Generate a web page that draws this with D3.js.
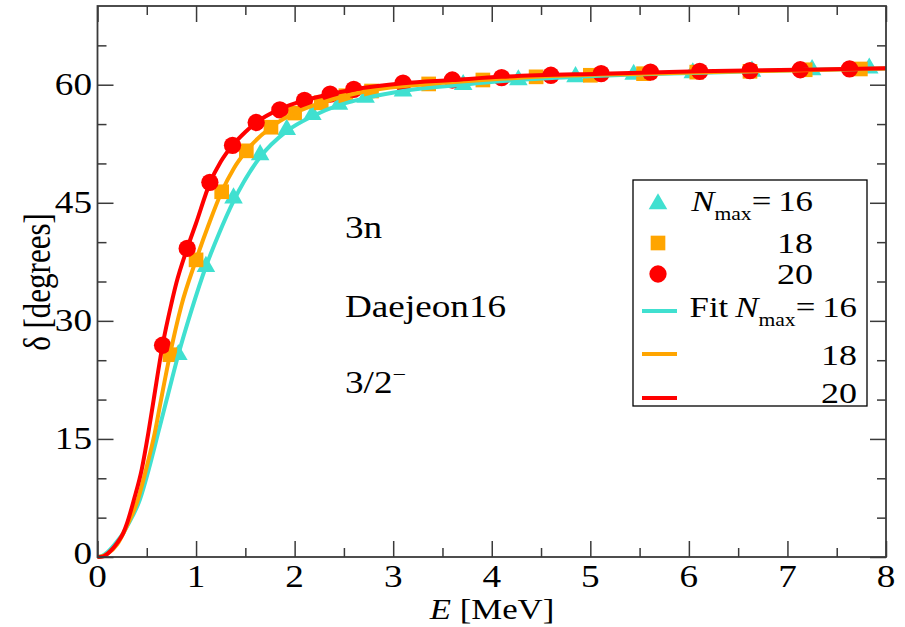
<!DOCTYPE html>
<html>
<head>
<meta charset="utf-8">
<script src="https://cdn.jsdelivr.net/npm/d3@7"></script>
<style>
  html, body { margin: 0; padding: 0; background: #fff; }
  text { font-family: "Liberation Serif", "Times New Roman", serif; fill: #000; }
</style>
</head>
<body>
<div id="chart"></div>
<script>
// tick values
var xMajor = [0, 1, 2, 3, 4, 5, 6, 7, 8];
var xMinor = [0.5, 1.5, 2.5, 3.5, 4.5, 5.5, 6.5, 7.5];
var yMajor = [0, 15, 30, 45, 60];
var yMinor = [5, 10, 20, 25, 35, 40, 50, 55, 65];

// calculated phase shifts, [E, delta]
var pts16 = [[0.82,25.7],[1.10,36.9],[1.38,45.6],[1.65,51.1],[1.92,54.3],[2.18,56.2],[2.45,57.5],[2.72,58.4],
  [3.10,59.2],[3.71,60.0],[4.27,60.6],[4.85,61.0],[5.44,61.3],[6.04,61.5],[6.64,61.7],[7.25,61.9],[7.83,62.1]];
var pts18 = [[0.735,25.7],[1.00,37.75],[1.26,46.4],[1.51,51.6],[1.76,54.6],[2.00,56.4],[2.27,57.7],[2.52,58.6],[2.78,59.2],
  [3.36,60.1],[3.91,60.6],[4.45,61.0],[5.00,61.2],[5.54,61.4],[6.08,61.6],[6.62,61.7],[7.18,61.9],[7.74,62.0]];
var pts20 = [[0.66,26.9],[0.91,39.2],[1.14,47.6],[1.37,52.3],[1.61,55.2],[1.85,56.8],[2.10,58.0],[2.36,58.8],[2.60,59.4],
  [3.10,60.2],[3.60,60.6],[4.10,60.9],[4.60,61.2],[5.11,61.4],[5.61,61.6],[6.11,61.7],[6.62,61.8],[7.13,61.9],[7.63,62.0]];

// fitted curves
var fit16 = [[0,0],[0.05,0.15],[0.1,0.6],[0.2,2.0],[0.26,3.0],[0.3,3.9],[0.43,7.3],[0.53,11.6],[0.62,16.0],[0.7,19.9],
  [0.82,25.7],[0.95,31.2],[1.1,36.9],[1.23,41.0],[1.38,45.2],[1.65,50.8],[1.92,54.1],[2.18,56.0],[2.45,57.4],[2.72,58.3],
  [3.1,59.2],[3.71,60.0],[4.27,60.6],[4.85,61.0],[5.44,61.3],[6.04,61.5],[6.64,61.7],[7.25,61.9],[7.83,62.0],[8,62.05]];
var fit18 = [[0,0],[0.05,0.1],[0.1,0.4],[0.2,1.6],[0.3,4.0],[0.41,7.3],[0.5,11.5],[0.58,15.7],[0.645,20.0],[0.735,25.7],
  [0.85,31.9],[1.0,37.75],[1.13,42.3],[1.26,46.4],[1.38,49.3],[1.51,51.6],[1.76,54.6],[2.0,56.4],[2.27,57.7],[2.52,58.6],
  [2.78,59.3],[3.36,60.1],[3.91,60.6],[4.45,61.0],[5.54,61.4],[6.62,61.7],[7.74,62.0],[8,62.05]];
var fit20 = [[0,0],[0.05,0.05],[0.1,0.4],[0.15,1.0],[0.2,1.8],[0.26,3.0],[0.3,4.3],[0.37,7.3],[0.45,11.2],[0.515,15.7],
  [0.57,20.0],[0.66,26.9],[0.75,32.2],[0.8,34.8],[0.91,39.2],[1.0,42.4],[1.14,47.5],[1.25,50.2],[1.37,52.3],[1.5,54.0],
  [1.61,55.2],[1.85,56.9],[2.1,58.0],[2.36,58.8],[2.6,59.4],[3.1,60.2],[3.6,60.6],[4.1,61.0],[5.1,61.4],[6.1,61.7],
  [7.1,61.9],[8.0,62.1]];

var cyan = "#40e0d0", orange = "#ffa500", red = "#ff0000";
var width = 905, height = 627;
var sx = 1.2; // glyphs in the picture are wider than plain Times
var fs = 31;

var svg = d3.select("#chart").append("svg").attr("width", width).attr("height", height);

var x = d3.scaleLinear().domain([0, 8]).range([97.5, 886]);
var y = d3.scaleLinear().domain([0, 70]).range([557, 6]);

var addText = function(str, px, py, anchor, size, extra) {
  var t = svg.append("text")
    .attr("transform", "translate(" + px + "," + py + ") scale(" + sx + ",1)" + (extra || ""))
    .attr("text-anchor", anchor)
    .style("font-size", (size || fs) + "px");
  return t.text(str);
};

// symbols
var sets = [
  {pts: pts16, color: cyan, sym: d3.symbolTriangle, size: 150},
  {pts: pts18, color: orange, sym: d3.symbolSquare, size: 215},
  {pts: pts20, color: red, sym: d3.symbolCircle, size: 235}
];
sets.forEach(function(s) {
  svg.append("g").selectAll("path").data(s.pts).enter().append("path")
    .attr("transform", function(d) { return "translate(" + x(d[0]) + "," + y(d[1]) + ")"; })
    .attr("d", d3.symbol().type(s.sym).size(s.size))
    .attr("fill", s.color);
});

// fit lines on top
var line = d3.line().x(function(d) { return x(d[0]); }).y(function(d) { return y(d[1]); })
  .curve(d3.curveMonotoneX);
[[fit16, cyan], [fit18, orange], [fit20, red]].forEach(function(f) {
  svg.append("path").datum(f[0]).attr("d", line)
    .attr("fill", "none").attr("stroke", f[1]).attr("stroke-width", 4);
});

// ticks on all four sides, pointing inwards
var frameColor = "#3a3a3a";
var drawTicks = function(axisFn, scale, vals, len, tr) {
  var g = svg.append("g").attr("transform", tr)
    .call(axisFn(scale).tickValues(vals).tickSize(len).tickFormat(""));
  g.select(".domain").remove();
  g.selectAll("line").attr("stroke", frameColor).attr("stroke-width", 1.5);
};
drawTicks(d3.axisBottom, x, xMajor, -16, "translate(0,557)");
drawTicks(d3.axisBottom, x, xMinor, -9, "translate(0,557)");
drawTicks(d3.axisTop, x, xMajor, -16, "translate(0,6)");
drawTicks(d3.axisTop, x, xMinor, -9, "translate(0,6)");
drawTicks(d3.axisLeft, y, yMajor, -16, "translate(97.5,0)");
drawTicks(d3.axisLeft, y, yMinor, -9, "translate(97.5,0)");
drawTicks(d3.axisRight, y, yMajor, -16, "translate(886,0)");
drawTicks(d3.axisRight, y, yMinor, -9, "translate(886,0)");

svg.append("rect").attr("x", 97.5).attr("y", 6).attr("width", 886 - 97.5).attr("height", 551)
  .attr("fill", "none").attr("stroke", frameColor).attr("stroke-width", 1.8);

// tick labels
xMajor.forEach(function(v) { addText(String(v), x(v), 587, "middle"); });
yMajor.forEach(function(v) { addText(String(v), 92, y(v) + (v === 0 ? 7 : 10), "end"); });

// axis titles
var xt = addText("", 492, 619, "middle", 29);
xt.append("tspan").style("font-style", "italic").text("E");
xt.append("tspan").text(" [MeV]");
addText("\u03b4 [degrees]", 50, 282, "middle", fs, " rotate(-90)");

// annotations
addText("3n", 345, 238, "start");
addText("Daejeon16", 345, 317, "start");
var jp = addText("3/2", 345, 393, "start");
jp.append("tspan").attr("dy", -12).style("font-size", "20px").text("\u2212");

// legend
svg.append("rect").attr("x", 633).attr("y", 180).attr("width", 234).attr("height", 226)
  .attr("fill", "#fff").attr("stroke", "#000").attr("stroke-width", 1.3);

// "N_max = 16" as a single text element
var nmaxLabel = function(t, num) {
  t.append("tspan").style("font-style", "italic").text("N");
  t.append("tspan").attr("dy", 9).style("font-size", "18px").text("max");
  t.append("tspan").attr("dy", -9).text("=\u2009" + num);
  return t;
};

var legSyms = [
  {sym: d3.symbolTriangle, size: 150, color: cyan, cy: 204, label: "16", base: 211, first: true},
  {sym: d3.symbolSquare, size: 215, color: orange, cy: 243, label: "18", base: 253},
  {sym: d3.symbolCircle, size: 235, color: red, cy: 274, label: "20", base: 284}
];
legSyms.forEach(function(l) {
  svg.append("path").attr("transform", "translate(658," + l.cy + ")")
    .attr("d", d3.symbol().type(l.sym).size(l.size)).attr("fill", l.color);
  if (l.first) {
    nmaxLabel(addText("", 813, l.base, "end", 29), l.label);
  } else {
    addText(l.label, 813, l.base, "end", 30);
  }
});

var legLines = [
  {color: cyan, cy: 311, label: "16", base: 317, first: true},
  {color: orange, cy: 354, label: "18", base: 365},
  {color: red, cy: 398, label: "20", base: 403}
];
legLines.forEach(function(l) {
  svg.append("line").attr("x1", 642).attr("x2", 677).attr("y1", l.cy).attr("y2", l.cy)
    .attr("stroke", l.color).attr("stroke-width", 4);
  if (l.first) {
    var t = addText("Fit\u2009", 857, l.base, "end", 29);
    nmaxLabel(t, l.label);
  } else {
    addText(l.label, 857, l.base, "end", 30);
  }
});
</script>
</body>
</html>
